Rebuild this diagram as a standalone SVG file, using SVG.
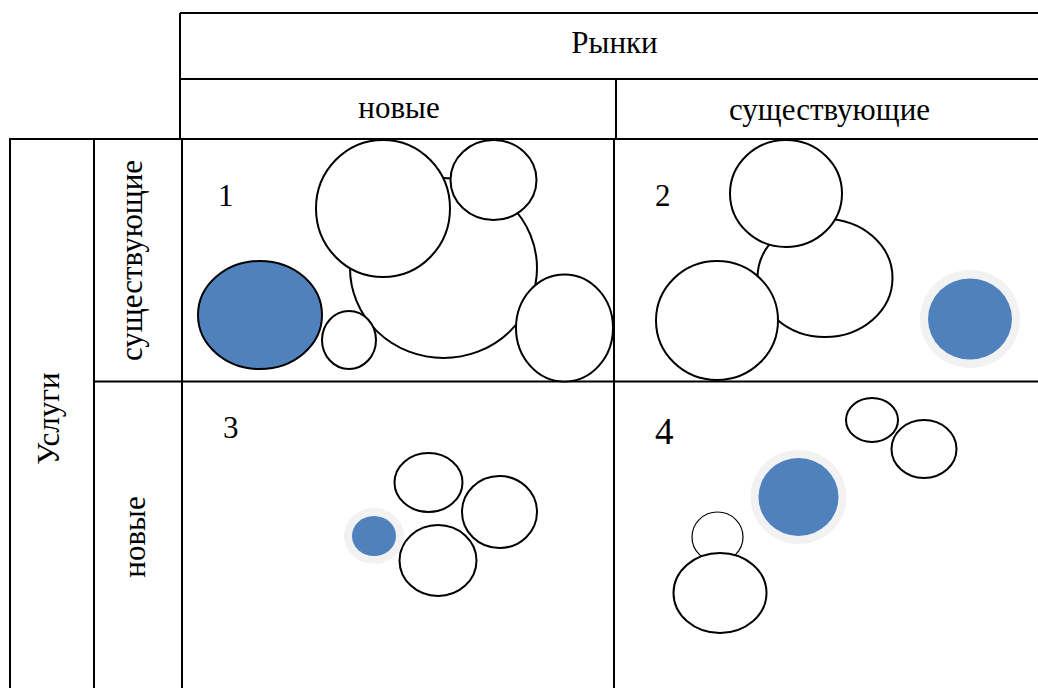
<svg xmlns="http://www.w3.org/2000/svg" width="1038" height="688" viewBox="0 0 1038 688">
<style>
.ln{stroke:#000;stroke-width:2;fill:none}
.c{fill:#fff;stroke:#000;stroke-width:2}
.ct{fill:#fff;stroke:#000;stroke-width:1.2}
.b{fill:#4F81BD;stroke:#000;stroke-width:2}
.bg{fill:#4F81BD;stroke:none}
.g{fill:#F2F2F2;stroke:none}
.t{font-family:"Liberation Serif","Times New Roman",serif;font-size:31px;fill:#000}
.n{font-family:"Liberation Serif","Times New Roman",serif;font-size:31px;fill:#000}
</style>
<rect width="1038" height="688" fill="#fff"/>
<g id="grid">
<line class="ln" x1="180" y1="13" x2="1038" y2="13"/>
<line class="ln" x1="180" y1="79" x2="1038" y2="79"/>
<line class="ln" x1="180" y1="13" x2="180" y2="139"/>
<line class="ln" x1="616" y1="79" x2="616" y2="139"/>
<line class="ln" x1="9" y1="139" x2="1038" y2="139"/>
<line class="ln" x1="10" y1="139" x2="10" y2="688"/>
<line class="ln" x1="94" y1="139" x2="94" y2="688"/>
<line class="ln" x1="182" y1="139" x2="182" y2="688"/>
<line class="ln" x1="614" y1="139" x2="614" y2="688"/>
<line class="ln" x1="94" y1="381.5" x2="1038" y2="381.5"/>
</g>
<g id="labels">
<text class="t" x="614.5" y="53" text-anchor="middle">Рынки</text>
<text class="t" x="399" y="118" text-anchor="middle">новые</text>
<text class="t" x="829.5" y="120" text-anchor="middle">существующие</text>
<text class="t" transform="translate(59,418.5) rotate(-90)" text-anchor="middle">Услуги</text>
<text class="t" transform="translate(142,260.5) rotate(-90)" text-anchor="middle">существующие</text>
<text class="t" transform="translate(145,537) rotate(-90)" text-anchor="middle">новые</text>
</g>
<g id="cell1">
<text class="n" x="218" y="206">1</text>
<ellipse class="c" cx="443.5" cy="268" rx="93.5" ry="90"/>
<ellipse class="c" cx="383" cy="208.5" rx="67" ry="68.5"/>
<ellipse class="c" cx="493.5" cy="180" rx="43" ry="40"/>
<ellipse class="c" cx="349" cy="340" rx="27" ry="29"/>
<ellipse class="c" cx="564.5" cy="328" rx="48.5" ry="53.5"/>
<ellipse class="b" cx="260" cy="315" rx="62" ry="54"/>
</g>
<g id="cell2">
<text class="n" x="655" y="206">2</text>
<ellipse class="c" cx="825" cy="278" rx="67.5" ry="59"/>
<ellipse class="c" cx="786" cy="193.5" rx="56" ry="53.5"/>
<ellipse class="c" cx="717" cy="320.5" rx="61" ry="59.5"/>
<ellipse class="g" cx="970" cy="319" rx="50" ry="49"/>
<ellipse class="bg" cx="970" cy="319" rx="42" ry="40.5"/>
</g>
<g id="cell3">
<text class="n" x="223" y="438">3</text>
<ellipse class="c" cx="428.5" cy="482.5" rx="34" ry="29.5"/>
<ellipse class="c" cx="499.5" cy="512" rx="37.5" ry="36"/>
<ellipse class="c" cx="438" cy="560.5" rx="38.5" ry="35.5"/>
<ellipse class="g" cx="374" cy="536" rx="30" ry="28"/>
<ellipse class="bg" cx="374" cy="536" rx="22" ry="20"/>
</g>
<g id="cell4">
<text class="n" x="655" y="444" style="font-size:37px">4</text>
<ellipse class="c" cx="872" cy="420" rx="26" ry="22"/>
<ellipse class="c" cx="924" cy="449" rx="32.5" ry="29"/>
<ellipse class="ct" cx="717.5" cy="537" rx="25.5" ry="25"/>
<ellipse class="c" cx="720" cy="593" rx="46.5" ry="40"/>
<ellipse class="g" cx="798.5" cy="497" rx="48" ry="47"/>
<ellipse class="bg" cx="798.5" cy="497" rx="40" ry="39"/>
</g>
</svg>
